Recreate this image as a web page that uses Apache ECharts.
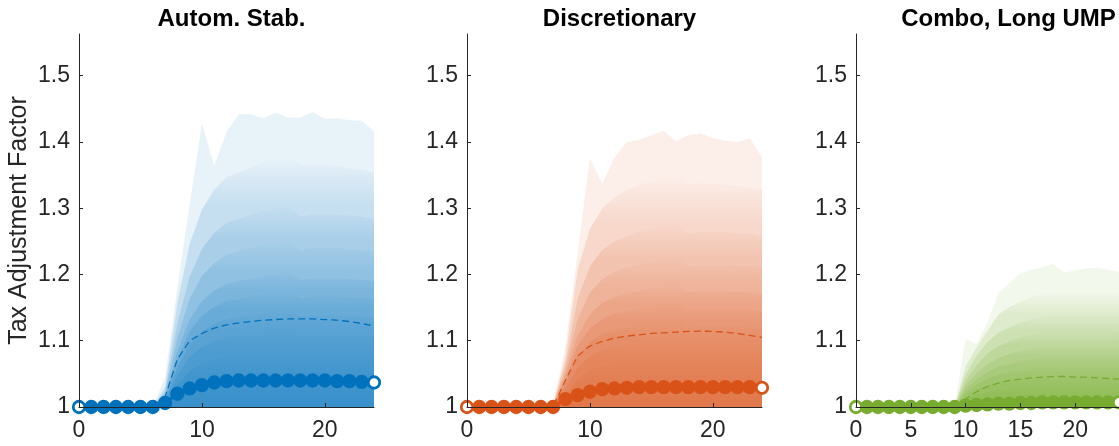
<!DOCTYPE html>
<html>
<head>
<meta charset="utf-8">
<script src="https://cdn.jsdelivr.net/npm/echarts@6/dist/echarts.min.js"></script>
<style>
  html, body { margin: 0; padding: 0; background: #ffffff; }
  #chart { width: 1119px; height: 446px; }
</style>
</head>
<body>
<div id="chart"></div>
<script>
// Horizon (quarters) shared by all three panels
const periods = [0,1,2,3,4,5,6,7,8,9,10,11,12,13,14,15,16,17,18,19,20,21,22,23,24];

const panelTitles = ['Autom. Stab.', 'Discretionary', 'Combo, Long UMP'];
const yAxisTitle = 'Tax Adjustment Factor';
const yTicks = [1, 1.1, 1.2, 1.3, 1.4, 1.5];
const xTicksWide = [0, 10, 20];
const xTicksFine = [0, 5, 10, 15, 20];

// ---- Automatic stabilizers: upper quantile lines, outermost first ----
const automBand1  = [1,1,1,1,1,1,1,1.045,1.180,1.305,1.428,1.364,1.415,1.442,1.442,1.436,1.444,1.437,1.437,1.445,1.435,1.436,1.433,1.432,1.416];
const automBand2  = [1,1,1,1,1,1,1,1.030,1.157,1.246,1.298,1.328,1.347,1.354,1.362,1.369,1.373,1.376,1.366,1.366,1.365,1.364,1.360,1.358,1.354];
const automBand3  = [1,1,1,1,1,1,1,1.024,1.126,1.197,1.239,1.263,1.278,1.284,1.290,1.296,1.299,1.305,1.287,1.290,1.290,1.290,1.289,1.287,1.284];
const automBand4  = [1,1,1,1,1,1,1,1.020,1.104,1.163,1.198,1.217,1.230,1.235,1.240,1.245,1.247,1.252,1.237,1.240,1.240,1.240,1.238,1.237,1.235];
const automBand5  = [1,1,1,1,1,1,1,1.016,1.084,1.132,1.160,1.176,1.186,1.190,1.194,1.198,1.200,1.204,1.192,1.194,1.194,1.194,1.193,1.192,1.190];
const automBand6  = [1,1,1,1,1,1,1,1.014,1.072,1.114,1.138,1.151,1.160,1.163,1.167,1.170,1.172,1.175,1.165,1.167,1.167,1.167,1.166,1.165,1.163];
const automBand7  = [1,1,1,1,1,1,1,1.011,1.060,1.094,1.114,1.126,1.133,1.136,1.139,1.142,1.143,1.146,1.137,1.139,1.139,1.139,1.138,1.137,1.136];
const automBand8  = [1,1,1,1,1,1,1,1.009,1.048,1.075,1.091,1.100,1.106,1.108,1.111,1.113,1.114,1.116,1.109,1.111,1.111,1.111,1.110,1.109,1.108];
const automBand9  = [1,1,1,1,1,1,1,1.007,1.034,1.054,1.066,1.072,1.076,1.078,1.080,1.081,1.082,1.084,1.079,1.080,1.080,1.080,1.079,1.079,1.078];
const automBand10 = [1,1,1,1,1,1,1,1.004,1.019,1.030,1.037,1.040,1.043,1.044,1.045,1.046,1.046,1.047,1.044,1.045,1.045,1.045,1.044,1.044,1.044];
const automMean   = [1,1,1,1,1,1,1,1.015,1.072,1.100,1.111,1.119,1.124,1.127,1.129,1.131,1.132,1.133,1.133,1.133,1.132,1.131,1.129,1.126,1.122];
const automMedian = [1,1,1,1,1,1,1,1.006,1.020,1.028,1.033,1.037,1.039,1.040,1.040,1.040,1.040,1.040,1.040,1.040,1.040,1.039,1.039,1.038,1.037];

// ---- Discretionary policy ----
const discBand1  = [1,1,1,1,1,1,1,1.005,1.090,1.232,1.376,1.337,1.377,1.400,1.403,1.410,1.417,1.401,1.410,1.413,1.406,1.402,1.400,1.406,1.377];
const discBand2  = [1,1,1,1,1,1,1,1.003,1.075,1.207,1.269,1.300,1.317,1.328,1.335,1.342,1.345,1.350,1.337,1.338,1.337,1.336,1.333,1.331,1.328];
const discBand3  = [1,1,1,1,1,1,1,1.003,1.065,1.163,1.212,1.237,1.250,1.258,1.264,1.269,1.272,1.277,1.261,1.264,1.264,1.264,1.262,1.261,1.258];
const discBand4  = [1,1,1,1,1,1,1,1.002,1.057,1.133,1.173,1.193,1.204,1.211,1.215,1.220,1.222,1.226,1.213,1.215,1.215,1.215,1.214,1.213,1.211];
const discBand5  = [1,1,1,1,1,1,1,1.002,1.049,1.108,1.140,1.157,1.166,1.171,1.175,1.178,1.180,1.184,1.173,1.175,1.175,1.175,1.174,1.173,1.171];
const discBand6  = [1,1,1,1,1,1,1,1.002,1.042,1.092,1.119,1.133,1.141,1.145,1.148,1.151,1.153,1.156,1.147,1.148,1.148,1.148,1.148,1.147,1.145];
const discBand7  = [1,1,1,1,1,1,1,1.001,1.035,1.076,1.098,1.110,1.116,1.120,1.122,1.125,1.126,1.129,1.121,1.122,1.122,1.122,1.122,1.121,1.120];
const discBand8  = [1,1,1,1,1,1,1,1.001,1.027,1.059,1.077,1.086,1.091,1.094,1.096,1.098,1.099,1.101,1.095,1.096,1.096,1.096,1.096,1.095,1.094];
const discBand9  = [1,1,1,1,1,1,1,1.001,1.019,1.042,1.055,1.061,1.064,1.067,1.068,1.069,1.070,1.071,1.067,1.068,1.068,1.068,1.068,1.067,1.067];
const discBand10 = [1,1,1,1,1,1,1,1.000,1.011,1.022,1.028,1.031,1.033,1.034,1.035,1.036,1.036,1.037,1.035,1.035,1.035,1.035,1.035,1.035,1.034];
const discMean   = [1,1,1,1,1,1,1,1.000,1.040,1.077,1.092,1.099,1.104,1.107,1.109,1.111,1.112,1.113,1.114,1.1145,1.114,1.113,1.111,1.108,1.105];
const discMedian = [1,1,1,1,1,1,1,1.000,1.012,1.018,1.023,1.027,1.028,1.029,1.030,1.030,1.030,1.030,1.030,1.030,1.030,1.030,1.030,1.030,1.029];

// ---- Combination with long unconventional monetary policy ----
const comboBand1  = [1,1,1,1,1,1,1,1,1,1.002,1.103,1.095,1.128,1.172,1.187,1.202,1.207,1.211,1.216,1.203,1.206,1.209,1.210,1.207,1.204];
const comboBand2  = [1,1,1,1,1,1,1,1,1,1.001,1.061,1.090,1.115,1.140,1.151,1.159,1.166,1.172,1.175,1.175,1.175,1.175,1.175,1.174,1.173];
const comboBand3  = [1,1,1,1,1,1,1,1,1,1.001,1.049,1.077,1.098,1.112,1.120,1.127,1.133,1.137,1.140,1.140,1.140,1.140,1.140,1.139,1.139];
const comboBand4  = [1,1,1,1,1,1,1,1,1,1.001,1.040,1.063,1.081,1.092,1.099,1.105,1.109,1.113,1.115,1.115,1.115,1.115,1.115,1.114,1.114];
const comboBand5  = [1,1,1,1,1,1,1,1,1,1.000,1.033,1.051,1.065,1.074,1.080,1.085,1.088,1.091,1.093,1.093,1.093,1.093,1.093,1.093,1.092];
const comboBand6  = [1,1,1,1,1,1,1,1,1,1.000,1.027,1.042,1.053,1.061,1.065,1.069,1.072,1.074,1.076,1.076,1.076,1.076,1.076,1.076,1.075];
const comboBand7  = [1,1,1,1,1,1,1,1,1,1.000,1.021,1.034,1.043,1.049,1.052,1.056,1.058,1.060,1.061,1.061,1.061,1.061,1.061,1.061,1.060];
const comboBand8  = [1,1,1,1,1,1,1,1,1,1.000,1.016,1.026,1.033,1.038,1.040,1.043,1.045,1.046,1.047,1.047,1.047,1.047,1.047,1.047,1.047];
const comboBand9  = [1,1,1,1,1,1,1,1,1,1.000,1.012,1.018,1.023,1.026,1.028,1.030,1.031,1.032,1.033,1.033,1.033,1.033,1.033,1.033,1.033];
const comboBand10 = [1,1,1,1,1,1,1,1,1,1.000,1.006,1.010,1.013,1.014,1.015,1.016,1.017,1.018,1.018,1.018,1.018,1.018,1.018,1.018,1.018];
const comboMean   = [1,1,1,1,1,1,1,1,1,1.000,1.012,1.023,1.031,1.036,1.040,1.042,1.044,1.045,1.046,1.046,1.045,1.045,1.044,1.043,1.042];
const comboMedian = [1,1,1,1,1,1,1,1,1,1.000,1.002,1.003,1.004,1.005,1.005,1.006,1.006,1.007,1.007,1.007,1.007,1.007,1.007,1.007,1.007];

// ---- Layout and styling ----
const FONT = 'Liberation Sans, Arial, Helvetica, sans-serif';
const AXIS_COLOR = '#262626';
const Y_MIN = 1, Y_MAX = 1.563, X_MIN = 0, X_MAX = 24;
const PANEL_LEFT = [79, 467, 856];
const PANEL_WIDTH = 295;
const OUTER_ALPHA = 0.09;   // outermost band, flat tint with a crisp edge

const panels = [
  { rgb: [0, 114, 189],  innerAlpha: 0.15, bands: [automBand1, automBand2, automBand3, automBand4, automBand5, automBand6, automBand7, automBand8, automBand9, automBand10], mean: automMean, median: automMedian, xTicks: xTicksWide },
  { rgb: [217, 83, 25],  innerAlpha: 0.15, bands: [discBand1, discBand2, discBand3, discBand4, discBand5, discBand6, discBand7, discBand8, discBand9, discBand10], mean: discMean, median: discMedian, xTicks: xTicksWide },
  { rgb: [119, 172, 48], innerAlpha: 0.17, bands: [comboBand1, comboBand2, comboBand3, comboBand4, comboBand5, comboBand6, comboBand7, comboBand8, comboBand9, comboBand10], mean: comboMean, median: comboMedian, xTicks: xTicksFine }
];

const rgba = (c, a) => `rgba(${c[0]},${c[1]},${c[2]},${a})`;
const toPoints = vals => periods.map((x, i) => [x, vals[i]]);

// Fill for band k: the outermost is a flat tint; inner ones ramp from clear at their
// peak down to full tint at the next band's peak, so the fan shades smoothly.
function bandFill(p, k) {
  if (k === 0) return rgba(p.rgb, OUTER_ALPHA);
  const top = Math.max(...p.bands[k]);
  const nextTop = k + 1 < p.bands.length ? Math.max(...p.bands[k + 1]) : Y_MIN;
  const s = Math.max(0.02, Math.min(1, (top - nextTop) / (top - Y_MIN)));
  return {
    type: 'linear', x: 0, y: 0, x2: 0, y2: 1,
    colorStops: [
      { offset: 0, color: rgba(p.rgb, 0) },
      { offset: s, color: rgba(p.rgb, p.innerAlpha) },
      { offset: 1, color: rgba(p.rgb, p.innerAlpha) }
    ]
  };
}

const grids = [], xAxes = [], yAxes = [], titles = [], series = [];

panels.forEach((p, idx) => {
  grids.push({ left: PANEL_LEFT[idx], top: 34, width: PANEL_WIDTH, height: 373, containLabel: false });

  titles.push({
    text: panelTitles[idx],
    left: PANEL_LEFT[idx] + PANEL_WIDTH / 2,
    top: 2,
    textAlign: 'center',
    textStyle: { fontFamily: FONT, fontSize: 24, fontWeight: 'bold', color: '#000000' }
  });

  xAxes.push({
    type: 'value', gridIndex: idx, min: X_MIN, max: X_MAX, z: 10,
    splitLine: { show: false },
    axisLine: { show: true, onZero: false, lineStyle: { color: AXIS_COLOR, width: 1 } },
    axisTick: { show: true, inside: true, length: 4, customValues: p.xTicks, lineStyle: { color: AXIS_COLOR } },
    axisLabel: { customValues: p.xTicks, color: AXIS_COLOR, fontFamily: FONT, fontSize: 23, margin: 12 }
  });

  yAxes.push({
    type: 'value', gridIndex: idx, min: Y_MIN, max: Y_MAX, z: 10,
    splitLine: { show: false },
    axisLine: { show: true, onZero: false, lineStyle: { color: AXIS_COLOR, width: 1 } },
    axisTick: { show: true, inside: true, length: 4, customValues: yTicks, lineStyle: { color: AXIS_COLOR } },
    axisLabel: { customValues: yTicks, color: AXIS_COLOR, fontFamily: FONT, fontSize: 23, margin: 9 },
    name: idx === 0 ? yAxisTitle : '',
    nameLocation: 'middle',
    nameGap: 47,
    nameTextStyle: { color: AXIS_COLOR, fontFamily: FONT, fontSize: 25 }
  });

  // fan of quantile bands, each filled down to the axis floor
  p.bands.forEach((band, k) => {
    series.push({
      type: 'line', xAxisIndex: idx, yAxisIndex: idx,
      data: toPoints(band),
      symbol: 'none', silent: true, z: 1,
      lineStyle: { width: 0 },
      areaStyle: { color: bandFill(p, k), origin: 'start', opacity: 1 }
    });
  });

  // mean path (dashed)
  series.push({
    type: 'line', xAxisIndex: idx, yAxisIndex: idx,
    data: toPoints(p.mean),
    symbol: 'none', silent: true, z: 3,
    lineStyle: { color: rgba(p.rgb, 1), width: 1.3, type: [7, 4] }
  });

  // median path with circle markers; first and last drawn open
  const last = periods.length - 1;
  series.push({
    type: 'line', xAxisIndex: idx, yAxisIndex: idx,
    data: periods.map((x, i) => (i === 0 || i === last)
      ? { value: [x, p.median[i]], itemStyle: { color: '#ffffff' } }
      : [x, p.median[i]]),
    symbol: 'circle', symbolSize: 11.5, showAllSymbol: true, silent: true, z: 4,
    lineStyle: { color: rgba(p.rgb, 1), width: 3 },
    itemStyle: { color: rgba(p.rgb, 1), borderColor: rgba(p.rgb, 1), borderWidth: 2.8, opacity: 1 }
  });
});

const chart = echarts.init(document.getElementById('chart'), null, { renderer: 'canvas' });
chart.setOption({
  animation: false,
  backgroundColor: '#ffffff',
  title: titles,
  grid: grids,
  xAxis: xAxes,
  yAxis: yAxes,
  series: series
});
</script>
</body>
</html>
